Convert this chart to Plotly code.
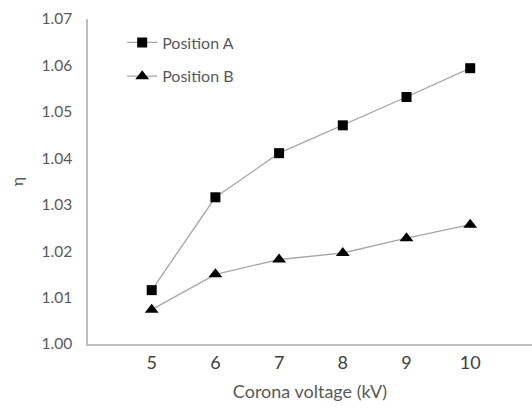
import plotly.graph_objects as go

voltage = [5, 6, 7, 8, 9, 10]
pos_a = [1.0116, 1.0316, 1.0411, 1.0471, 1.0532, 1.0594]
pos_b = [1.0074, 1.0150, 1.0182, 1.0196, 1.0228, 1.0257]
y_ticks = [1.00, 1.01, 1.02, 1.03, 1.04, 1.05, 1.06, 1.07]

font_family = "Lato, Liberation Sans, sans-serif"
gray_text = "#595959"

fig = go.Figure()
fig.add_trace(go.Scatter(
    x=voltage, y=pos_a, name="Position A", mode="lines+markers",
    line=dict(color="#a6a6a6", width=1.3),
    marker=dict(symbol="square", size=10, color="black"),
    legendgroup="a",
))
fig.add_trace(go.Scatter(
    x=voltage, y=pos_b, name="Position B", mode="lines+markers",
    line=dict(color="#a6a6a6", width=1.3),
    marker=dict(symbol="triangle-up", size=12, color="black"),
    legendgroup="b",
))

fig.update_layout(
    width=532, height=408,
    margin=dict(l=88, r=0, t=19, b=64),
    paper_bgcolor="white", plot_bgcolor="white",
    font=dict(family=font_family, size=15, color=gray_text),
    showlegend=True,
    legend=dict(
        x=0.077, y=0.98, xanchor="left", yanchor="top",
        bgcolor="rgba(0,0,0,0)", font=dict(size=16, color=gray_text),
        traceorder="grouped", tracegroupgap=10,
    ),
    xaxis=dict(
        range=[4, 10.97], tickvals=voltage, ticktext=[str(v) for v in voltage],
        showgrid=False, zeroline=False, showline=True, linecolor="#bfbfbf", linewidth=1.5,
        ticks="", ticklabelstandoff=2, tickfont=dict(size=18, color="#404040"),
        title=dict(text="Corona voltage (kV)", font=dict(size=18, color=gray_text), standoff=13),
    ),
    yaxis=dict(
        range=[1.0, 1.07], tickvals=y_ticks, ticktext=[f"{v:.2f}" for v in y_ticks],
        showgrid=False, zeroline=False, showline=True, linecolor="#bfbfbf", linewidth=1.5,
        ticks="", ticklabelstandoff=11, tickfont=dict(size=15.5, color=gray_text),
        title=dict(text="η", font=dict(size=16, color=gray_text), standoff=14),
    ),
)

fig.write_html("out.html")
